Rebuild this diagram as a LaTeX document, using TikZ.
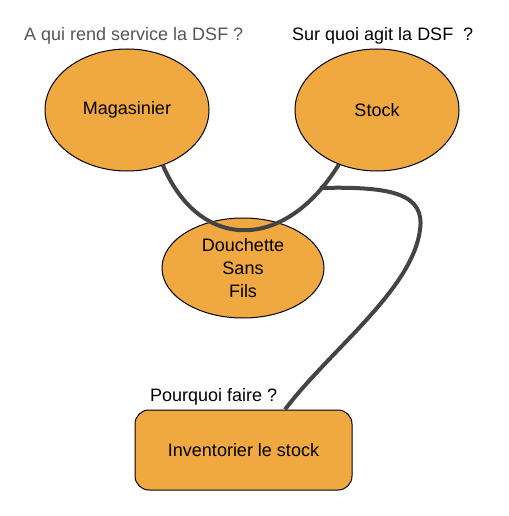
\documentclass[tikz,border=0pt]{standalone}
\usepackage{fontspec}
\setmainfont{Liberation Sans}
\usetikzlibrary{shapes.geometric}
\definecolor{boxfill}{HTML}{F0A841}
\definecolor{linkcol}{HTML}{444444}
\definecolor{greytext}{HTML}{555555}
\begin{document}
\begin{tikzpicture}[x=1pt,y=-1pt,
  bubble/.style={ellipse,draw=black,line width=1pt,fill=boxfill,inner sep=0pt,align=center},
  taskbox/.style={rectangle,rounded corners=14pt,draw=black,line width=1pt,fill=boxfill,inner sep=0pt},
  link/.style={draw=linkcol,line width=4pt},
  lbl/.style={inner sep=0pt,anchor=west},
  every node/.style={font=\fontsize{18}{23}\selectfont}]
\useasboundingbox (0,0) rectangle (508,516);
\node[bubble,minimum width=164pt,minimum height=122pt] (m) at (127,110) {Magasinier};
\node[bubble,minimum width=164pt,minimum height=122pt] (s) at (377,110) {Stock};
\node[taskbox,minimum width=217pt,minimum height=80pt] (t) at (243.5,450) {Inventorier le stock};
\node[bubble,minimum width=162pt,minimum height=100pt] (d) at (243,268) {Douchette\\Sans\\Fils};
\coordinate (j) at (320,188);
\coordinate (r) at (420,230);
\draw[link] (m.-57) .. controls (200,252) and (285,252) .. (s.-125);
\draw[link] (j) .. controls (395,186) and (425,195) .. (r) .. controls (412,290) and (330,350) .. (t.north -| 285,0);
\node[lbl,text=greytext] (q1) at (24,36) {A qui rend service la DSF ?};
\node[lbl] (q2) at (292,36) {Sur quoi agit la DSF\ \ ?};
\node[lbl] (q3) at (150,397) {Pourquoi faire ?};
\end{tikzpicture}
\end{document}
